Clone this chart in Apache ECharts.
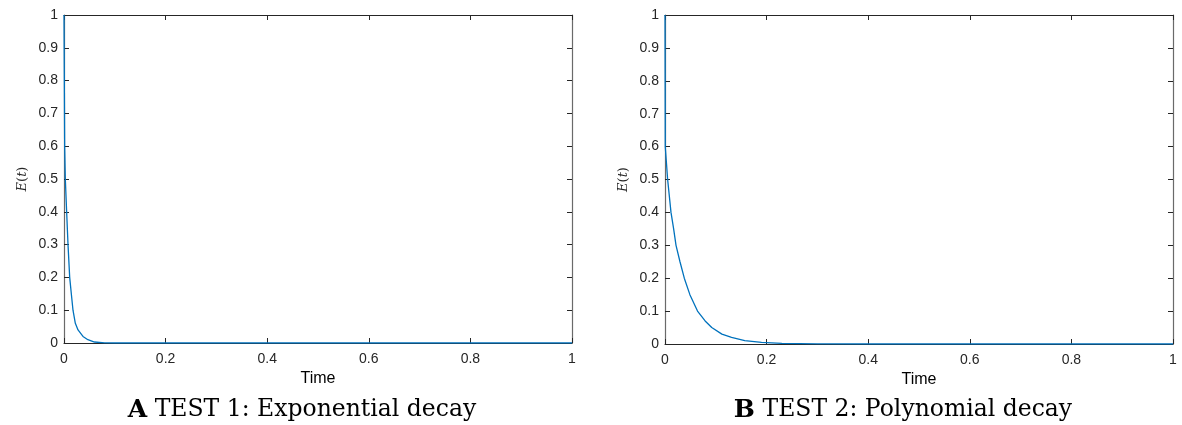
<!DOCTYPE html>
<html>
<head>
<meta charset="utf-8">
<script src="https://cdn.jsdelivr.net/npm/echarts@6/dist/echarts.min.js"></script>
<style>
  html, body { margin: 0; padding: 0; background: #ffffff; }
  #chart { width: 1182px; height: 425px; }
</style>
</head>
<body>
<div id="chart"></div>
<script>
// ---- Data ----
const test1Time = [0, 0.0013, 0.0026, 0.0052, 0.0079, 0.0112, 0.0144, 0.0177, 0.0223, 0.0276, 0.0374, 0.047, 0.06, 0.08, 0.1, 0.2, 0.4, 0.6, 0.8, 1];
const test1Energy = [1, 0.6, 0.5, 0.4, 0.3, 0.2, 0.15, 0.1, 0.06, 0.04, 0.02, 0.01, 0.003, 0.0005, 0, 0, 0, 0, 0, 0];

const test2Time = [0, 0.0005, 0.0052, 0.0118, 0.017, 0.0217, 0.0295, 0.038, 0.049, 0.064, 0.079, 0.092, 0.112, 0.131, 0.157, 0.19, 0.23, 0.3, 0.4, 0.6, 0.8, 1];
const test2Energy = [1, 0.6, 0.5, 0.4, 0.35, 0.3, 0.25, 0.2, 0.15, 0.1, 0.07, 0.05, 0.03, 0.02, 0.01, 0.005, 0.002, 0.0005, 0, 0, 0, 0];

const xTicks = [0, 0.2, 0.4, 0.6, 0.8, 1];
const yTicks = [0, 0.1, 0.2, 0.3, 0.4, 0.5, 0.6, 0.7, 0.8, 0.9, 1];
const xLabel = 'Time';
const captions = ['TEST 1: Exponential decay', 'TEST 2: Polynomial decay'];
const captionLetters = ['A', 'B'];

// ---- Styling / layout ----
const axisColor = '#262626';
const sideColor = '#6a6a6a';
const lineColor = '#0072BD';
const grids = [
  { left: 64, top: 15, width: 508, height: 328 },
  { left: 665, top: 15, width: 508, height: 329 }
];

function zip(a, b) { return a.map((v, i) => [v, b[i]]); }

const xAxes = [];
const yAxes = [];
grids.forEach((g, gi) => {
  // bottom
  xAxes.push({
    type: 'value', gridIndex: gi, position: 'bottom', min: 0, max: 1, interval: 0.2,
    name: xLabel, nameLocation: 'middle', nameGap: 26,
    nameTextStyle: { fontFamily: 'Liberation Sans', fontSize: 16, color: '#000' },
    axisLine: { show: true, onZero: false, lineStyle: { color: axisColor, width: 1 } },
    axisTick: { show: true, inside: true, length: 5, lineStyle: { color: axisColor } },
    axisLabel: { margin: 9, fontFamily: 'Liberation Sans', fontSize: 14, color: axisColor,
      formatter: v => String(v) },
    splitLine: { show: false }
  });
  // top (box)
  xAxes.push({
    type: 'value', gridIndex: gi, position: 'top', min: 0, max: 1, interval: 0.2,
    axisLine: { show: true, onZero: false, lineStyle: { color: axisColor, width: 1 } },
    axisTick: { show: true, inside: true, length: 5, lineStyle: { color: axisColor } },
    axisLabel: { show: false },
    splitLine: { show: false }
  });
  // left
  yAxes.push({
    type: 'value', gridIndex: gi, position: 'left', min: 0, max: 1, interval: 0.1,
    axisLine: { show: true, onZero: false, lineStyle: { color: sideColor, width: 1.2 } },
    axisTick: { show: true, inside: true, length: 5, lineStyle: { color: axisColor } },
    axisLabel: { margin: 6, fontFamily: 'Liberation Sans', fontSize: 14, color: axisColor,
      formatter: v => String(Math.round(v * 10) / 10) },
    splitLine: { show: false }
  });
  // right (box)
  yAxes.push({
    type: 'value', gridIndex: gi, position: 'right', min: 0, max: 1, interval: 0.1,
    axisLine: { show: true, onZero: false, lineStyle: { color: sideColor, width: 1.2 } },
    axisTick: { show: true, inside: true, length: 5, lineStyle: { color: axisColor } },
    axisLabel: { show: false },
    splitLine: { show: false }
  });
});

const seriesData = [zip(test1Time, test1Energy), zip(test2Time, test2Energy)];

const series = seriesData.map((d, gi) => ({
  type: 'line', xAxisIndex: gi * 2, yAxisIndex: gi * 2, data: d,
  showSymbol: false, symbol: 'none', smooth: false,
  lineStyle: { color: lineColor, width: 1.3 }, z: 5, animation: false
}));

const graphic = [];
grids.forEach((g, gi) => {
  graphic.push({
    type: 'text', x: g.left - 41, y: g.top + g.height / 2, rotation: Math.PI / 2,
    style: {
      text: '{e|E}{p|(}{e|t}{p|)}',
      align: 'center', verticalAlign: 'middle',
      rich: {
        e: { fontFamily: 'DejaVu Serif', fontStyle: 'italic', fontSize: 13, fill: '#262626' },
        p: { fontFamily: 'DejaVu Serif', fontSize: 13, fill: '#262626' }
      }
    }
  });
  graphic.push({
    type: 'text', x: g.left + g.width / 2 - 16, y: 410,
    style: {
      text: '{b|' + captionLetters[gi] + '} ' + captions[gi],
      align: 'center', verticalAlign: 'middle',
      fontFamily: 'DejaVu Serif', fontSize: 23.5, fill: '#000',
      rich: {
        b: { fontFamily: 'DejaVu Serif', fontWeight: 'bold', fontSize: 25, fill: '#000' }
      }
    }
  });
});

const chart = echarts.init(document.getElementById('chart'), null, { renderer: 'canvas' });
chart.setOption({
  animation: false,
  backgroundColor: '#ffffff',
  grid: grids.map(g => Object.assign({ containLabel: false }, g)),
  xAxis: xAxes,
  yAxis: yAxes,
  series: series,
  graphic: graphic
});
</script>
</body>
</html>
